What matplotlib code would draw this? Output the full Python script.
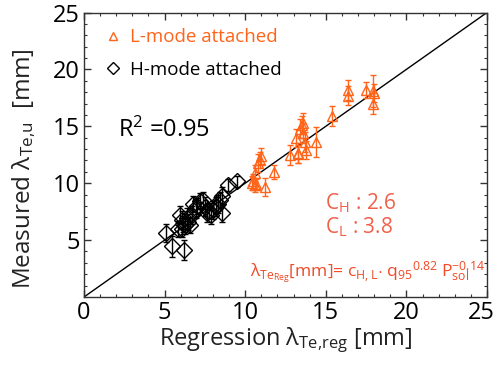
import matplotlib
matplotlib.use('Agg')
import matplotlib.pyplot as plt
import matplotlib.transforms as mtransforms
from matplotlib.lines import Line2D

plt.rcParams['font.family'] = ['Open Sans', 'DejaVu Sans']
plt.rcParams['mathtext.fontset'] = 'custom'
plt.rcParams['mathtext.rm'] = 'Open Sans'
plt.rcParams['mathtext.it'] = 'Open Sans'
plt.rcParams['mathtext.default'] = 'rm'

ORANGE = '#FF6419'
RED = '#F04A28'
SOFT_RED = '#F0604A'

# L-mode attached (regression, measured, error)
l_x = [10.4, 10.5, 10.6, 10.7, 10.6, 10.8, 10.9, 11.0, 11.2, 11.8,
       12.8, 13.15, 13.25, 13.3, 13.5, 13.57, 13.6, 13.7, 13.8, 14.4,
       15.4, 16.35, 16.4, 17.5, 17.95, 18.0, 17.95, 13.4]
l_y = [10.0, 10.15, 9.86, 9.9, 10.9, 11.8, 12.05, 12.4, 9.7, 11.0,
       12.5, 14.0, 12.6, 12.65, 15.1, 15.3, 14.4, 13.6, 12.9, 13.6,
       15.9, 18.2, 17.7, 18.2, 18.1, 17.9, 17.0, 14.8]
l_err = [0.6, 0.7, 0.6, 0.5, 0.7, 0.8, 0.7, 0.7, 0.8, 0.6,
         0.9, 0.8, 0.8, 0.9, 0.8, 0.9, 0.9, 0.9, 0.8, 1.3,
         0.85, 0.9, 0.8, 0.7, 1.4, 0.8, 0.9, 0.8]

# H-mode attached
h_x = [5.1, 5.45, 6.2, 5.85, 5.95, 6.05, 6.15, 6.27, 6.37, 6.45,
       6.58, 6.68, 6.78, 6.95, 7.2, 7.4, 7.5, 7.6, 7.75, 7.9,
       8.0, 8.2, 8.45, 8.55, 8.55, 8.95, 9.5, 6.1, 7.0, 8.3]
h_y = [5.6, 4.45, 4.15, 5.95, 7.2, 6.8, 6.4, 6.3, 6.9, 6.6,
       6.3, 7.2, 8.2, 7.7, 8.4, 8.55, 7.95, 7.35, 7.6, 7.2,
       7.65, 7.95, 8.5, 7.35, 8.85, 9.85, 10.15, 6.0, 8.0, 8.2]
h_err = [0.8, 0.9, 0.9, 0.7, 0.8, 0.8, 0.7, 0.8, 0.9, 0.7,
         0.7, 0.8, 0.7, 0.8, 0.7, 0.7, 0.8, 0.8, 0.7, 0.8,
         0.8, 0.8, 0.7, 0.8, 0.8, 0.5, 0.5, 0.7, 0.7, 0.8]

fig = plt.figure(figsize=(4.96, 3.67), dpi=100)
ax = fig.add_axes([84 / 496, 1 - 297 / 367, 403 / 496, 284.5 / 367])

ax.plot([0, 25], [0, 25], color='black', lw=1.0, zorder=1)

ax.errorbar(h_x, h_y, yerr=h_err, fmt='D', ms=8, mfc='none', mec='black',
            mew=1.0, ecolor='black', elinewidth=1.0, capsize=2, zorder=2)
ax.errorbar(l_x, l_y, yerr=l_err, fmt='^', ms=7, mfc='none', mec=ORANGE,
            mew=1.0, ecolor=ORANGE, elinewidth=1.0, capsize=2, zorder=3)

ax.set_xlim(0, 25)
ax.set_ylim(0, 25)
ax.set_xticks([0, 5, 10, 15, 20, 25])
ax.set_yticks([5, 10, 15, 20, 25])
ax.set_xticks(range(0, 26), minor=True)
ax.set_yticks(range(0, 26), minor=True)
ax.tick_params(which='both', direction='in', top=True, right=True, color='#333333')
ax.tick_params(which='major', length=5, width=1.0, labelsize=17, pad=3)
ax.tick_params(which='minor', length=2.5, width=0.8)
for s in ax.spines.values():
    s.set_color('#333333')
    s.set_linewidth(1.0)

# keep the last x tick label inside the canvas
shift = mtransforms.ScaledTranslation(-6 / 100, 0, fig.dpi_scale_trans)
last = ax.get_xticklabels()[-1]
last.set_transform(last.get_transform() + shift)

ax.set_xlabel(r'Regression $\lambda_{\rm Te{,}reg}$ [mm]', fontsize=17, color='#222222', labelpad=0)
ax.set_ylabel(r'Measured $\lambda_{\rm Te{,}u}$  [mm]', fontsize=17.5, color='#222222')
ax.yaxis.set_label_coords(-0.115, 0.45)

handles = [Line2D([], [], ls='none', marker='^', ms=6, mfc='none', mec=ORANGE, mew=1.0),
           Line2D([], [], ls='none', marker='D', ms=6, mfc='none', mec='black', mew=1.0)]
ax.legend(handles, ['L-mode attached', 'H-mode attached'], loc='upper left',
          frameon=False, fontsize=13.5, labelcolor=[ORANGE, 'black'],
          handlelength=0.8, handletextpad=0.5, labelspacing=0.75,
          borderaxespad=0.3, bbox_to_anchor=(0.02, 0.99))

ax.text(2.1, 14.65, r'R$^2$ =0.95', fontsize=17, color='black', va='center', ha='left')
ax.text(14.95, 8.25, r'C$_{\rm H}$ : 2.6', fontsize=15, color=SOFT_RED, va='center', ha='left')
ax.text(14.95, 6.1, r'C$_{\rm L}$ : 3.8', fontsize=15, color=SOFT_RED, va='center', ha='left')
ax.text(10.3, 1.76,
        r'$\lambda_{\rm Te_{Reg}}$[mm]= c$_{\rm H,L}$$\cdot$ q$_{95}$$^{0.82}$ P$_{\rm sol}^{-0.14}$',
        fontsize=12.6, color=RED, va='baseline', ha='left')

fig.savefig('out.png', dpi=100)
